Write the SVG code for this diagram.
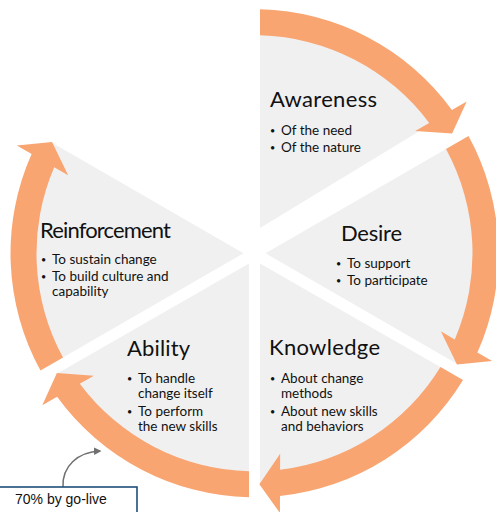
<svg xmlns="http://www.w3.org/2000/svg" xmlns:xlink="http://www.w3.org/1999/xlink" width="496" height="512" viewBox="0 0 496 512">
<style>
.wedge{fill:#F0F0F0}
.arrow{fill:#F8A572}
.title{font-family:Lato,"Open Sans",sans-serif;font-size:22px;fill:#111}
.item{font-family:Lato,"Open Sans",sans-serif;font-size:13.5px;fill:#111}
.dot{font-family:Lato,"Open Sans",sans-serif;font-size:9px;fill:#111}
.note{font-family:"Liberation Sans",Arial,sans-serif;font-size:14px;fill:#111}
</style>
<defs>
<path id="cycleArrow" class="arrow" d="M260,9.36 A244,244 0 0 1 451.9,109.9 L466.7,101.4 L452.1,133.6 L415.2,130.9 L429.2,122.9 A218,218 0 0 0 260,35.37 Z"/>
<marker id="grayHead" viewBox="0 0 10 10" refX="8" refY="5" markerWidth="5" markerHeight="5" orient="auto" markerUnits="strokeWidth">
<path d="M0,0 L10,5 L0,10 Z" fill="#707070"/>
</marker>
</defs>
<rect width="496" height="512" fill="#fff"/>

<g id="awareness">
<path class="wedge" d="M260,228 L260,22.37 A231,231 0 0 1 441,118 Z"/>
<text class="title" x="270" y="107" textLength="107">Awareness</text>
<text class="dot" x="270" y="134">•</text>
<text class="item" x="281" y="135">Of the need</text>
<text class="dot" x="270" y="151">•</text>
<text class="item" x="281" y="152">Of the nature</text>
</g>

<g id="desire">
<path class="wedge" d="M265.5,253.3 L457.3,142.6 A231,231 0 0 1 457.3,364 Z"/>
<text class="title" x="341" y="241" textLength="61">Desire</text>
<text class="dot" x="336" y="267">•</text>
<text class="item" x="347" y="268">To support</text>
<text class="dot" x="336" y="284">•</text>
<text class="item" x="347" y="285">To participate</text>
</g>

<g id="knowledge">
<path class="wedge" d="M260,263.5 L451.7,373.5 A231,231 0 0 1 260,484.2 Z"/>
<text class="title" x="269" y="355" textLength="111">Knowledge</text>
<text class="dot" x="270" y="382">•</text>
<text class="item" x="281" y="383">About change</text>
<text class="item" x="281" y="398">methods</text>
<text class="dot" x="270" y="415">•</text>
<text class="item" x="281" y="416">About new skills</text>
<text class="item" x="281" y="431">and behaviors</text>
</g>

<g id="ability">
<path class="wedge" d="M249,263.5 L249,484.2 A231,231 0 0 1 57.3,373.5 Z"/>
<text class="title" x="127" y="356" textLength="63">Ability</text>
<text class="dot" x="127" y="382">•</text>
<text class="item" x="138" y="383">To handle</text>
<text class="item" x="138" y="398">change itself</text>
<text class="dot" x="127" y="415">•</text>
<text class="item" x="138" y="416">To perform</text>
<text class="item" x="138" y="431">the new skills</text>
</g>

<g id="reinforcement">
<path class="wedge" d="M243.5,253.3 L51.7,364 A231,231 0 0 1 51.7,142.6 Z"/>
<text class="title" x="40" y="238" textLength="131">Reinforcement</text>
<text class="dot" x="41" y="263">•</text>
<text class="item" x="52" y="264">To sustain change</text>
<text class="dot" x="41" y="280">•</text>
<text class="item" x="52" y="281">To build culture and</text>
<text class="item" x="52" y="296">capability</text>
</g>

<g id="connectors">
<use xlink:href="#cycleArrow"/>
<use xlink:href="#cycleArrow" transform="rotate(60 254.5 253.3)"/>
<use xlink:href="#cycleArrow" transform="rotate(120 254.5 253.3)"/>
<use xlink:href="#cycleArrow" transform="rotate(180 254.5 253.3)"/>
<use xlink:href="#cycleArrow" transform="rotate(240 254.5 253.3)"/>
<path d="M63,487 C62,466 78,452 100,451" fill="none" stroke="#707070" stroke-width="1.5" marker-end="url(#grayHead)"/>
</g>

<g id="golive">
<rect x="-2" y="487" width="139" height="30" fill="#fff" stroke="#1F4E79" stroke-width="1.6"/>
<text class="note" x="15" y="504">70% by go-live</text>
</g>
</svg>
